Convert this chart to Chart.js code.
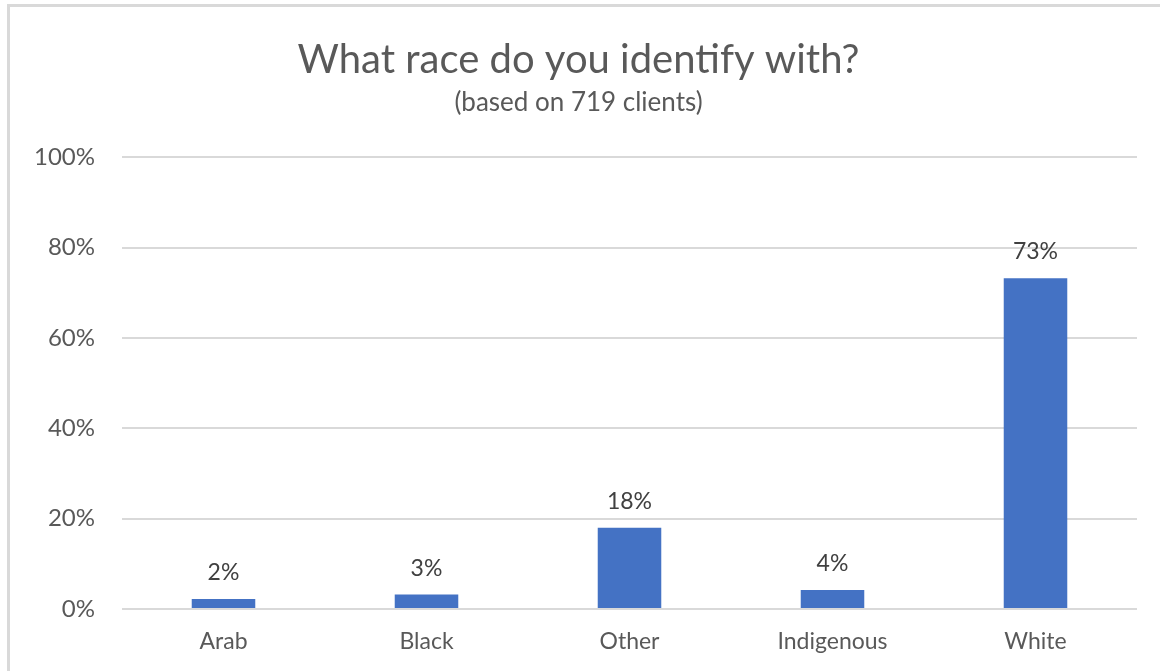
<!DOCTYPE html>
<html>
<head>
  <meta charset="UTF-8">
  <title>What race do you identify with?</title>
  <script src="https://cdn.jsdelivr.net/npm/chart.js"></script>
  <style>
    html, body {
      margin: 0;
      padding: 0;
      background: #fff;
      overflow: hidden;
    }
    #frame {
      position: absolute;
      left: 7px;
      top: 4px;
      width: 1200px;
      height: 720px;
      border: 3px solid #d9d9d9;
    }
    #wrap {
      position: absolute;
      left: 0;
      top: 0;
      width: 1160px;
      height: 671px;
    }
  </style>
</head>
<body>
<div id="frame"></div>
<div id="wrap"><canvas id="chart"></canvas></div>

<script>
  // Data (percent of clients)
  const categories = ['Arab', 'Black', 'Other', 'Indigenous', 'White'];
  const values = [2.2, 3.2, 18.0, 4.2, 73.2];
  const valueLabels = ['2%', '3%', '18%', '4%', '73%'];
  const yTicks = [0, 20, 40, 60, 80, 100];

  // Draw the value labels above each bar
  const barLabels = {
    id: 'barLabels',
    afterDatasetsDraw(chart) {
      const ctx = chart.ctx;
      const meta = chart.getDatasetMeta(0);
      ctx.save();
      ctx.font = '23px Lato';
      ctx.fillStyle = '#404040';
      ctx.textAlign = 'center';
      ctx.textBaseline = 'alphabetic';
      meta.data.forEach((bar, i) => {
        ctx.fillText(valueLabels[i], bar.x, bar.y - 19);
      });
      ctx.restore();
    }
  };

  new Chart(document.getElementById('chart'), {
    type: 'bar',
    data: {
      labels: categories,
      datasets: [{
        data: values,
        backgroundColor: '#4472c4',
        borderWidth: 0,
        categoryPercentage: 1,
        barPercentage: 0.313
      }]
    },
    options: {
      responsive: true,
      maintainAspectRatio: false,
      animation: false,
      layout: { padding: { left: 20, right: 23, bottom: 12, top: 0 } },
      plugins: {
        legend: { display: false },
        tooltip: { enabled: false },
        title: {
          display: true,
          text: 'What race do you identify with?',
          color: '#595959',
          font: { family: 'Lato', size: 40, weight: 'normal' },
          padding: { top: 36, bottom: 0 }
        },
        subtitle: {
          display: true,
          text: '(based on 719 clients)',
          color: '#595959',
          font: { family: 'Lato', size: 26, weight: 'normal' },
          padding: { top: 3, bottom: 39 }
        }
      },
      scales: {
        x: {
          grid: { display: false },
          border: { display: false },
          ticks: {
            color: '#595959',
            font: { family: 'Lato', size: 23 },
            padding: 11
          },
          afterFit(scale) { scale.height = 50; }
        },
        y: {
          min: 0,
          max: 100,
          afterBuildTicks(scale) {
            scale.ticks = yTicks.map(v => ({ value: v }));
          },
          grid: { color: '#d9d9d9', lineWidth: 2, drawTicks: false },
          border: { display: false },
          ticks: {
            color: '#595959',
            font: { family: 'Lato', size: 24 },
            padding: 27,
            callback: v => v + '%'
          },
          afterFit(scale) { scale.width = 102; }
        }
      }
    },
    plugins: [barLabels]
  });
</script>
</body>
</html>
